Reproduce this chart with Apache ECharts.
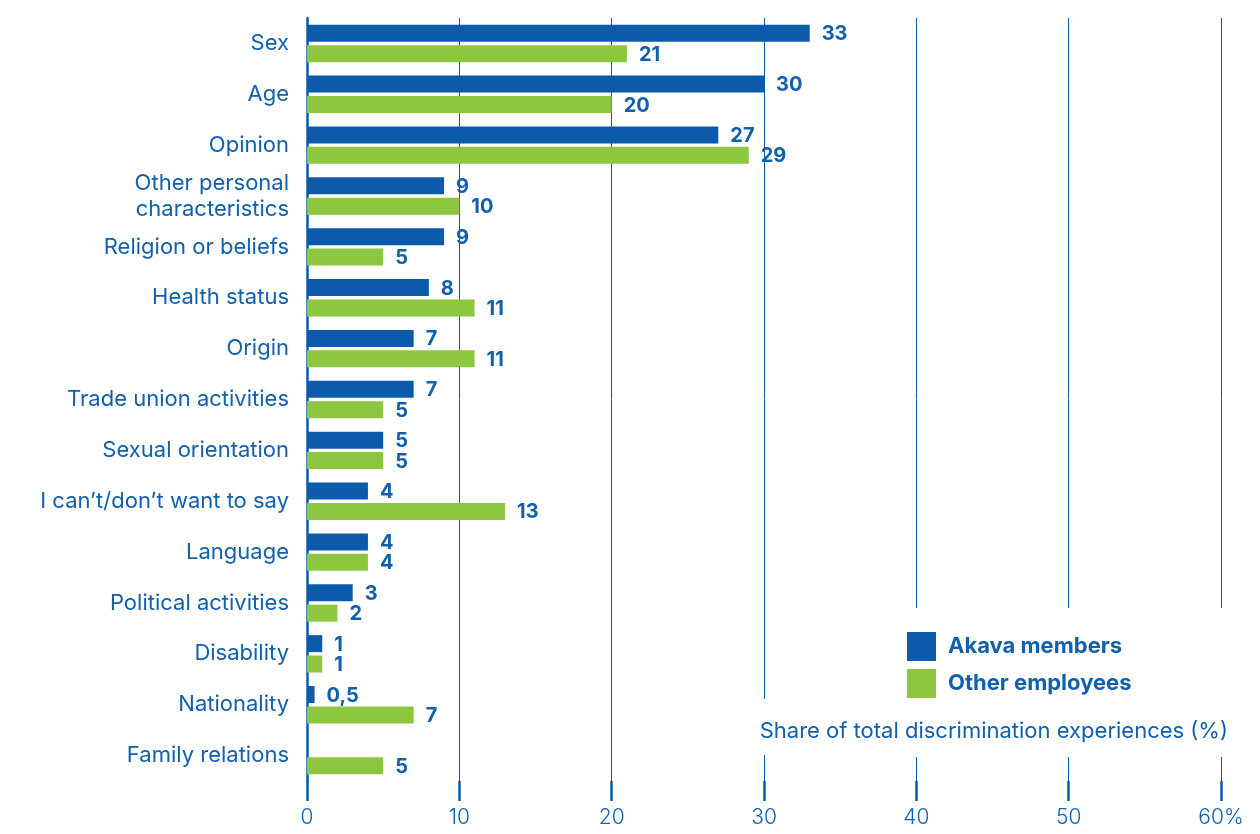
<!DOCTYPE html>
<html>
<head>
<meta charset="utf-8">
<script src="https://cdn.jsdelivr.net/npm/echarts@6/dist/echarts.min.js"></script>
<style>html,body{margin:0;padding:0;background:#fff;}#c{width:1260px;height:834px;}</style>
</head>
<body>
<div id="c"></div>
<script>
var categories = ["Sex","Age","Opinion","Other personal\ncharacteristics","Religion or beliefs","Health status","Origin","Trade union activities","Sexual orientation","I can\u2019t/don\u2019t want to say","Language","Political activities","Disability","Nationality","Family relations"];
var akava = [33,30,27,9,9,8,7,7,5,4,4,3,1,0.5,null];
var others = [21,20,29,10,5,11,11,5,5,13,4,2,1,7,5];
var xTicks = [0,10,20,30,40,50,60];
var seriesNames = ["Akava members","Other employees"];
var axisTitle = "Share of total discrimination experiences (%)";

var BLUE = "#0B5BAA", GREEN = "#8DC63F", TXT = "#1060AE";
var FONT = "Inter";
var chart = echarts.init(document.getElementById('c'));
function fmt(p){ return p.value == null ? '' : String(p.value).replace('.', ','); }
chart.setOption({
  animation:false,
  textStyle:{fontFamily:FONT},
  grid:{left:307,right:39,top:18,bottom:53,containLabel:false},
  title:{text:axisTitle,right:32,top:720,padding:0,textStyle:{fontFamily:FONT,fontWeight:'normal',fontSize:22,color:TXT}},
  legend:{orient:'vertical',left:907,top:632,padding:0,itemWidth:29,itemHeight:29,itemGap:8,icon:'rect',
    data:seriesNames,
    textStyle:{fontFamily:FONT,fontWeight:'bold',fontSize:22,color:TXT,padding:[5,0,0,7]}},
  graphic:{elements:[
    {type:'rect',z:1,silent:true,shape:{x:880,y:608,width:370,height:149},style:{fill:'#fff'}},
    {type:'rect',z:1,silent:true,shape:{x:745,y:699,width:505,height:56},style:{fill:'#fff'}}
  ]},
  xAxis:{type:'value',min:0,max:60,interval:10,
    axisLine:{show:false},
    axisTick:{show:true,length:20,lineStyle:{color:BLUE,width:2.5}},
    splitLine:{show:true,lineStyle:{color:BLUE,width:1}},
    axisLabel:{margin:26,fontFamily:FONT,fontSize:21,fontWeight:300,color:TXT,
      formatter:function(v){return v===60?'60%':String(v);}}},
  yAxis:{type:'category',data:categories,inverse:true,
    axisLine:{show:true,lineStyle:{color:BLUE,width:2.5}},
    axisTick:{show:false},
    axisLabel:{margin:18,fontFamily:FONT,fontSize:22,color:TXT,lineHeight:26,align:'right'}},
  series:[
    {name:seriesNames[0],type:'bar',data:akava,barWidth:17,barGap:'20%',z:3,
      itemStyle:{color:BLUE},
      label:{show:true,position:'right',distance:12,offset:[0,1],formatter:fmt,fontFamily:FONT,fontWeight:'bold',fontSize:20,color:TXT}},
    {name:seriesNames[1],type:'bar',data:others,barWidth:17,z:3,
      itemStyle:{color:GREEN},
      label:{show:true,position:'right',distance:12,offset:[0,1],formatter:fmt,fontFamily:FONT,fontWeight:'bold',fontSize:20,color:TXT}}
  ]
});
</script>
</body>
</html>
